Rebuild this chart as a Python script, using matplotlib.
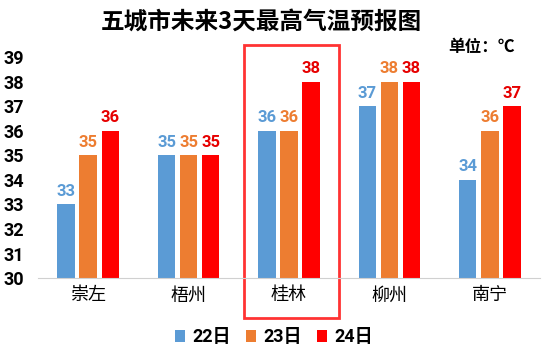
import numpy as np
import matplotlib.pyplot as plt
from matplotlib.patches import Rectangle

plt.rcParams['font.family'] = ['Noto Sans CJK SC', 'DejaVu Sans']

# Data
cities = ["崇左", "梧州", "桂林", "柳州", "南宁"]
days = ["22日", "23日", "24日"]
t22 = [33, 35, 36, 37, 34]
t23 = [35, 35, 36, 38, 36]
t24 = [36, 35, 38, 38, 37]
colors = ["#5B9BD5", "#ED7D31", "#FF0000"]
label_colors = ["#5B9BD5", "#ED7D31", "#E60000"]

fig = plt.figure(figsize=(5.51, 3.57), dpi=100)
ax = fig.add_axes([0.069, 0.221, 0.911, 0.619])

x = np.arange(len(cities))
width = 0.175
step = 0.22
for i, (vals, name) in enumerate(zip([t22, t23, t24], days)):
    pos = x + (i - 1) * step
    ax.bar(pos, np.array(vals) - 30, width, bottom=30, color=colors[i], label=name)
    for px, v in zip(pos, vals):
        ax.annotate(str(v), (px, v), xytext=(0, 4), textcoords="offset points",
                    ha="center", va="bottom", fontsize=12, fontweight="bold",
                    color=label_colors[i], family="Roboto")

ax.set_ylim(30, 39)
ax.set_xlim(-0.5, len(cities) - 0.5)
ax.set_yticks(range(30, 40))
ax.set_yticklabels([str(v) for v in range(30, 40)], fontsize=13, fontweight="bold",
                   family="Roboto")
ax.set_xticks(x)
ax.set_xticklabels(cities, fontsize=13)
ax.tick_params(length=0, pad=6)
ax.tick_params(axis="y", pad=10)
for s in ["top", "right", "left"]:
    ax.spines[s].set_visible(False)
ax.spines["bottom"].set_color("#D0D0D0")

# highlight box around 桂林
trans = ax.get_xaxis_transform()
ax.add_patch(Rectangle((1.55, -0.181), 0.95, 1.235, transform=trans,
                       fill=False, edgecolor="#FF3333", linewidth=2, clip_on=False))

fig.text(0.474, 0.94, "五城市未来3天最高气温预报图", ha="center", va="center",
         fontsize=17, fontweight="bold")
fig.text(0.935, 0.868, "单位：℃", ha="right", va="center", fontsize=12, fontweight="bold")

leg = fig.legend(loc="center", bbox_to_anchor=(0.497, 0.055), ncol=3, frameon=False,
                 prop={"size": 13, "weight": "bold", "family": ["Roboto", "Noto Sans CJK SC"]},
                 handlelength=0.6, handleheight=0.6,
                 handletextpad=0.4, columnspacing=0.8)

fig.savefig("out.png", dpi=100)
